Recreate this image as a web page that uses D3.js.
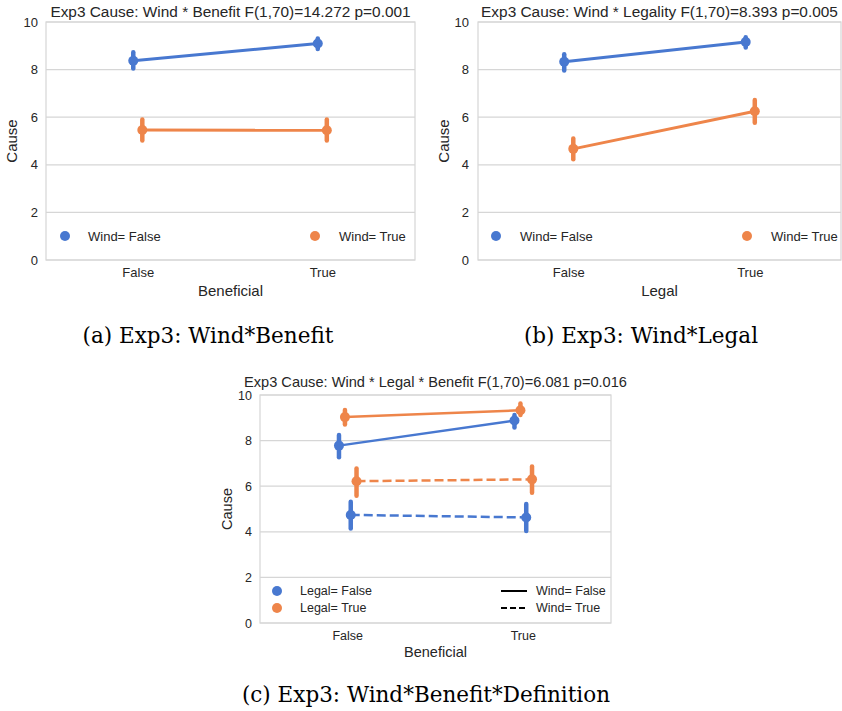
<!DOCTYPE html>
<html lang="en">
<head>
<meta charset="UTF-8">
<title>Exp3 Cause interactions</title>
<script src="https://d3js.org/d3.v7.min.js"></script>
<style>
    body { margin: 0; background: #fff; }
    svg { display: block; font-family: "Liberation Sans", Arial, sans-serif; }
    .tick text { fill: #262626; }
    .caption { font-family: "DejaVu Serif", serif; fill: #000; }
</style>
</head>
<body>
<svg id="chart" width="842" height="711"></svg>
<script>
// shared categories / ticks
const boolCats = ["False", "True"];
const yTicks = [0, 2, 4, 6, 8, 10];

// (a) Wind * Benefit
const aWindFalseMean = [8.37, 9.10];
const aWindFalseLow  = [8.05, 8.87];
const aWindFalseHigh = [8.73, 9.31];
const aWindTrueMean  = [5.46, 5.45];
const aWindTrueLow   = [5.02, 5.02];
const aWindTrueHigh  = [5.90, 5.90];

// (b) Wind * Legality
const bWindFalseMean = [8.33, 9.16];
const bWindFalseLow  = [7.96, 8.93];
const bWindFalseHigh = [8.65, 9.36];
const bWindTrueMean  = [4.67, 6.25];
const bWindTrueLow   = [4.23, 5.77];
const bWindTrueHigh  = [5.11, 6.72];

// (c) Wind * Legal * Benefit
const cLegalFalseWindFalseMean = [7.78, 8.88];
const cLegalFalseWindFalseLow  = [7.27, 8.57];
const cLegalFalseWindFalseHigh = [8.25, 9.12];
const cLegalTrueWindFalseMean  = [9.03, 9.33];
const cLegalTrueWindFalseLow   = [8.71, 9.12];
const cLegalTrueWindFalseHigh  = [9.34, 9.63];
const cLegalFalseWindTrueMean  = [4.74, 4.63];
const cLegalFalseWindTrueLow   = [4.15, 4.04];
const cLegalFalseWindTrueHigh  = [5.32, 5.22];
const cLegalTrueWindTrueMean   = [6.22, 6.30];
const cLegalTrueWindTrueLow    = [5.58, 5.71];
const cLegalTrueWindTrueHigh   = [6.78, 6.86];

const blue = "#4878d0";
const orange = "#ee854a";
const textColor = "#262626";
const gridColor = "#d6d6d6";

const svg = d3.select("#chart");

function drawPanel(p) {
    const g = svg.append("g");
    const x = d3.scaleBand().domain(boolCats).range([p.left, p.right]);
    const y = d3.scaleLinear().domain([0, 10]).range([p.bottom, p.top]);
    const bw = x.bandwidth();

    // grid
    g.selectAll(".grid").data(yTicks).join("line")
        .attr("x1", p.left).attr("x2", p.right)
        .attr("y1", d => y(d)).attr("y2", d => y(d))
        .attr("stroke", gridColor).attr("stroke-width", 1.2);

    g.append("rect")
        .attr("x", p.left).attr("y", p.top)
        .attr("width", p.right - p.left).attr("height", p.bottom - p.top)
        .attr("fill", "none").attr("stroke", gridColor).attr("stroke-width", 1.2);

    // axes
    g.append("g")
        .attr("transform", `translate(${p.left},0)`)
        .call(d3.axisLeft(y).tickValues(yTicks).tickSize(0).tickPadding(p.tickPad))
        .call(a => a.select(".domain").remove())
        .selectAll("text").attr("font-size", p.fs);

    g.append("g")
        .attr("transform", `translate(0,${p.bottom})`)
        .call(d3.axisBottom(x).tickSize(0).tickPadding(p.xTickPad))
        .call(a => a.select(".domain").remove())
        .selectAll("text").attr("font-size", p.fs);

    g.append("text")
        .attr("x", (p.left + p.right) / 2).attr("y", p.bottom + p.xLabelDy)
        .attr("text-anchor", "middle").attr("font-size", p.fs + 2)
        .attr("fill", textColor).text(p.xLabel);

    g.append("text")
        .attr("transform", `translate(${p.left - p.yLabelDx},${(p.top + p.bottom) / 2}) rotate(-90)`)
        .attr("text-anchor", "middle").attr("dy", "0.35em").attr("font-size", p.fs + 2)
        .attr("fill", textColor).text("Cause");

    g.append("text")
        .attr("x", (p.left + p.right) / 2).attr("y", p.top - p.titleDy)
        .attr("text-anchor", "middle").attr("font-size", p.titleFs)
        .attr("fill", textColor).text(p.title);

    // series
    p.series.forEach(s => {
        const cx = i => x(boolCats[i]) + bw / 2 + s.dodge * bw;
        const sg = g.append("g");
        sg.append("path")
            .datum(s.mean)
            .attr("d", d3.line().x((d, i) => cx(i)).y(d => y(d)))
            .attr("fill", "none").attr("stroke", s.color)
            .attr("stroke-width", p.lw)
            .attr("stroke-dasharray", s.dashed ? "9,4" : null);
        sg.selectAll(".err").data(s.mean).join("line")
            .attr("x1", (d, i) => cx(i)).attr("x2", (d, i) => cx(i))
            .attr("y1", (d, i) => y(s.low[i])).attr("y2", (d, i) => y(s.high[i]))
            .attr("stroke", s.color).attr("stroke-width", p.ew)
            .attr("stroke-linecap", "round");
        sg.selectAll(".pt").data(s.mean).join("circle")
            .attr("cx", (d, i) => cx(i)).attr("cy", d => y(d))
            .attr("r", p.r).attr("fill", s.color);
    });

    // legend
    p.legend.forEach(l => {
        if (l.type === "dot") {
            g.append("circle").attr("cx", l.x).attr("cy", l.y).attr("r", 5).attr("fill", l.color);
        } else {
            g.append("line").attr("x1", l.x - 13).attr("x2", l.x + 13)
                .attr("y1", l.y).attr("y2", l.y)
                .attr("stroke", "#000").attr("stroke-width", 2)
                .attr("stroke-dasharray", l.dashed ? "6,3" : null);
        }
        g.append("text").attr("x", l.tx).attr("y", l.y)
            .attr("dy", "0.35em").attr("font-size", p.fs)
            .attr("fill", textColor).text(l.label);
    });
}

drawPanel({
    left: 46, right: 415, top: 22, bottom: 260,
    fs: 13, titleFs: 15.4, titleDy: 5, tickPad: 8, xTickPad: 8, xLabelDy: 36, yLabelDx: 34,
    lw: 3, ew: 4.5, r: 5,
    xLabel: "Beneficial",
    title: "Exp3 Cause: Wind * Benefit F(1,70)=14.272 p=0.001",
    series: [
        { mean: aWindFalseMean, low: aWindFalseLow, high: aWindFalseHigh, color: blue, dodge: -0.027 },
        { mean: aWindTrueMean, low: aWindTrueLow, high: aWindTrueHigh, color: orange, dodge: 0.022 }
    ],
    legend: [
        { type: "dot", color: blue, x: 65, y: 236, tx: 88, label: "Wind= False" },
        { type: "dot", color: orange, x: 315, y: 236, tx: 339, label: "Wind= True" }
    ]
});

drawPanel({
    left: 478, right: 841, top: 22, bottom: 260,
    fs: 13, titleFs: 15.4, titleDy: 5, tickPad: 9, xTickPad: 8, xLabelDy: 36, yLabelDx: 34,
    lw: 3, ew: 4.5, r: 5,
    xLabel: "Legal",
    title: "Exp3 Cause: Wind * Legality F(1,70)=8.393 p=0.005",
    series: [
        { mean: bWindFalseMean, low: bWindFalseLow, high: bWindFalseHigh, color: blue, dodge: -0.025 },
        { mean: bWindTrueMean, low: bWindTrueLow, high: bWindTrueHigh, color: orange, dodge: 0.025 }
    ],
    legend: [
        { type: "dot", color: blue, x: 496, y: 236, tx: 520, label: "Wind= False" },
        { type: "dot", color: orange, x: 747, y: 236, tx: 771, label: "Wind= True" }
    ]
});

drawPanel({
    left: 260, right: 611, top: 395, bottom: 623,
    fs: 12.5, titleFs: 14.6, titleDy: 8, tickPad: 8, xTickPad: 8, xLabelDy: 34, yLabelDx: 33,
    lw: 2.5, ew: 4.5, r: 5,
    xLabel: "Beneficial",
    title: "Exp3 Cause: Wind * Legal * Benefit F(1,70)=6.081 p=0.016",
    series: [
        { mean: cLegalFalseWindTrueMean, low: cLegalFalseWindTrueLow, high: cLegalFalseWindTrueHigh, color: blue, dodge: 0.017, dashed: true },
        { mean: cLegalTrueWindTrueMean, low: cLegalTrueWindTrueLow, high: cLegalTrueWindTrueHigh, color: orange, dodge: 0.05, dashed: true },
        { mean: cLegalFalseWindFalseMean, low: cLegalFalseWindFalseLow, high: cLegalFalseWindFalseHigh, color: blue, dodge: -0.05 },
        { mean: cLegalTrueWindFalseMean, low: cLegalTrueWindFalseLow, high: cLegalTrueWindFalseHigh, color: orange, dodge: -0.016 }
    ],
    legend: [
        { type: "dot", color: blue, x: 277, y: 591, tx: 300, label: "Legal= False" },
        { type: "dot", color: orange, x: 277, y: 608, tx: 300, label: "Legal= True" },
        { type: "line", x: 514, y: 591, tx: 536, label: "Wind= False" },
        { type: "line", dashed: true, x: 514, y: 608, tx: 536, label: "Wind= True" }
    ]
});

// sub-figure captions
const captions = [
    { x: 208, y: 343, text: "(a) Exp3: Wind*Benefit" },
    { x: 641, y: 343, text: "(b) Exp3: Wind*Legal" },
    { x: 426, y: 702, text: "(c) Exp3: Wind*Benefit*Definition" }
];
svg.selectAll(".caption").data(captions).join("text")
    .attr("class", "caption")
    .attr("x", d => d.x).attr("y", d => d.y)
    .attr("text-anchor", "middle").attr("font-size", 21.5)
    .text(d => d.text);
</script>
</body>
</html>
